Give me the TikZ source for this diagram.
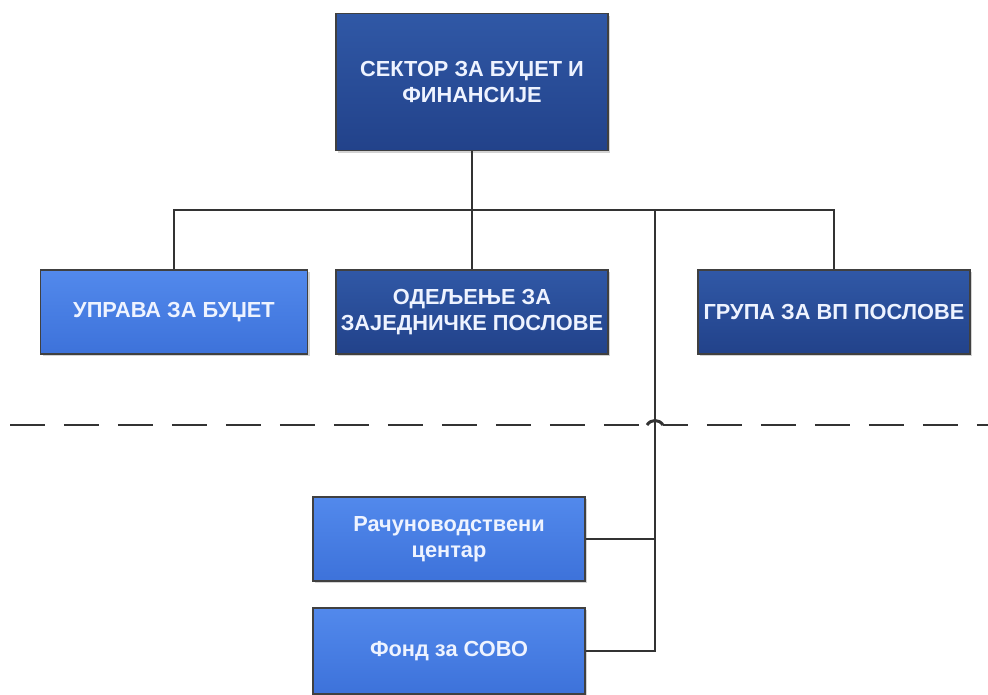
\documentclass[tikz,border=0pt]{standalone}
\usepackage{fontspec}
\setmainfont{Liberation Sans}
\usepackage{tikz}
\usetikzlibrary{calc,shadows}
\definecolor{darktop}{HTML}{3058A6}
\definecolor{darkbot}{HTML}{22428A}
\definecolor{lighttop}{HTML}{5289EC}
\definecolor{lightbot}{HTML}{3D72DA}
\definecolor{boxtext}{HTML}{EEF3FF}
\definecolor{linegray}{HTML}{333333}
\tikzset{
  unit/.style={rectangle,draw=black!75,line width=0.9pt,text=boxtext,
    font=\bfseries\fontsize{12.4}{15}\selectfont,align=center,
    minimum width=5.44cm,minimum height=1.68cm,inner sep=2pt,
    drop shadow={shadow xshift=1.2pt,shadow yshift=-1.2pt,opacity=0.35}},
  darkunit/.style={unit,top color=darktop,bottom color=darkbot},
  lightunit/.style={unit,top color=lighttop,bottom color=lightbot},
  conn/.style={draw=linegray,line width=1.7pt},
  border/.style={draw=linegray,line width=1.7pt,dash pattern=on 0.7cm off 0.38cm}
}
\newcommand{\orgline}[2]{\draw[conn] (#1) -- (#2);}

\begin{document}
\begin{tikzpicture}[x=0.02cm,y=-0.02cm]
			\useasboundingbox (0,0) rectangle (988,695);
			\node[darkunit,minimum height=2.74cm](sektor) at (472,82) {СЕКТОР ЗА БУЏЕТ И\\ФИНАНСИЈЕ};
			\node[lightunit,minimum width=5.34cm](uprava) at (174,312) {УПРАВА ЗА БУЏЕТ};
			\node[darkunit](odeljenje) at (472,312) {ОДЕЉЕЊЕ ЗА\\ЗАЈЕДНИЧКЕ ПОСЛОВЕ};
			\node[darkunit](grupa) at (834,312) {ГРУПА ЗА ВП ПОСЛОВЕ};
			\node[lightunit](racun) at (449,539) {Рачуноводствени\\центар};
			\node[lightunit,minimum height=1.72cm](fond) at (449,651) {Фонд за СОВО};
			
			\coordinate (busL) at (174,210);
			\coordinate (busR) at (834,210);
			\coordinate (busM) at (655,210);
			
			% border line with a hop
			\draw[border] (10,425) -- (647,425);
			\draw[conn] (647,425) .. controls (651,419) and (659,419) .. (663,425);
			\draw[border,dash phase=0.2cm] (663,425) -- (988,425);
			
			\draw[conn] (uprava.north) -- (busL) -- (busR) -- (grupa.north);
			\orgline{sektor.south}{odeljenje.north}
			\draw[conn] (fond.east) -| (busM);
			\orgline{racun.east}{racun.east -| busM}
		\end{tikzpicture}
\end{document}
